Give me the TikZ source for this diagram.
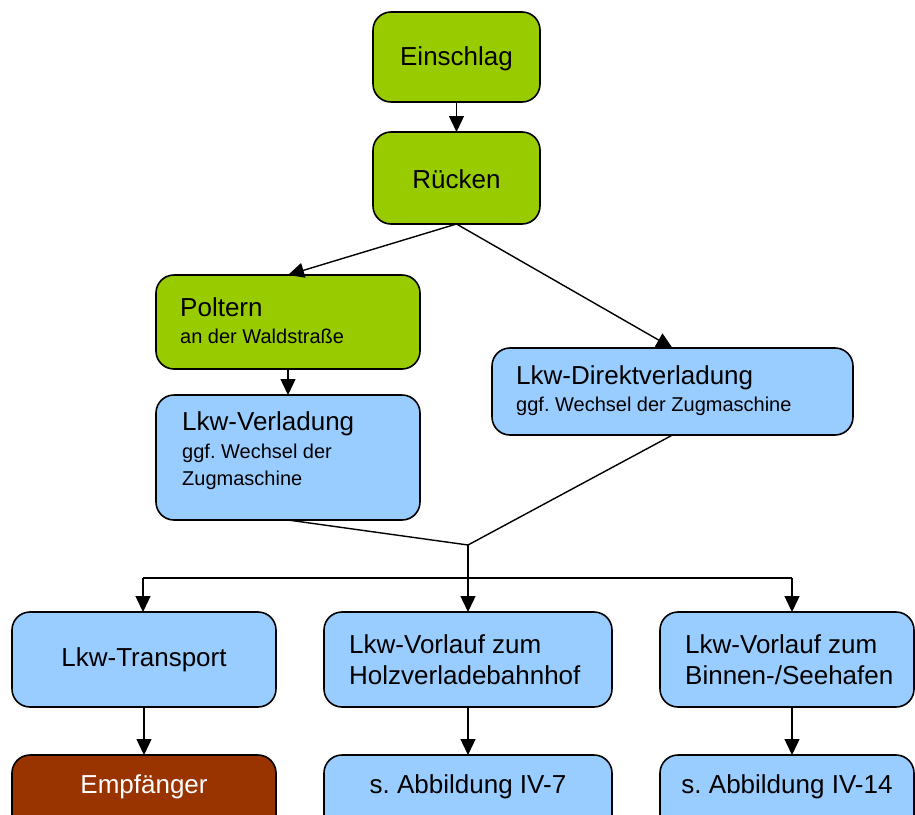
\documentclass[tikz,border=0pt]{standalone}
\usepackage{fontspec}
\setmainfont{Liberation Sans}
\usetikzlibrary{arrows.meta,calc}
\definecolor{grn}{HTML}{99CC00}
\definecolor{blu}{HTML}{99CCFF}
\definecolor{brn}{HTML}{993300}
\frenchspacing
\tikzset{
  box/.style={draw=black,line width=1.6pt,rounded corners=18pt,anchor=north west,inner sep=0pt,outer sep=0pt},
  gbox/.style={box,fill=grn},
  bbox/.style={box,fill=blu},
  lbl/.style={inner sep=0pt,font=\fontsize{26}{31}\selectfont,text=black},
  lft/.style={lbl,anchor=west,align=left},
  conn/.style={line width=1.4pt},
  arr/.style={conn,-{Triangle[length=16pt,width=15pt]}}
}
\begin{document}
\begin{tikzpicture}[x=1pt,y=-1pt]
\useasboundingbox (0,0) rectangle (915,814);
\clip (0,0) rectangle (915,814);
% boxes
\node[gbox,minimum width=167pt,minimum height=90pt] (ein) at (373,12) {};
\node[lbl] at ($(ein.center)+(0,2)$) {Einschlag};
\node[gbox,minimum width=167pt,minimum height=92pt] (rue) at (373,132) {};
\node[lbl] at ($(rue.center)+(0,1)$) {Rücken};
\node[gbox,minimum width=264pt,minimum height=94pt] (pol) at (156,275) {};
\node[lft] (polt) at (180,321) {Poltern\\[-4pt]{\fontsize{20}{24}\selectfont an der Waldstraße}};
\node[bbox,minimum width=264pt,minimum height=125pt] (ver) at (156,395) {};
\node[lft] (vert) at (182,451) {Lkw-Verladung\\[-3pt]{\fontsize{20}{24}\selectfont ggf. Wechsel der}\\[-4pt]{\fontsize{20}{24}\selectfont Zugmaschine}};
\node[bbox,minimum width=361pt,minimum height=87pt] (dir) at (492,348) {};
\node[lft] (dirt) at (516,391) {Lkw-Direktverladung\\[-4pt]{\fontsize{20}{24}\selectfont ggf. Wechsel der Zugmaschine}};
\node[bbox,minimum width=264pt,minimum height=95pt] (tra) at (12,612) {};
\node[lbl] at (tra.center) {Lkw-Transport};
\node[bbox,minimum width=288pt,minimum height=95pt] (hol) at (324,612) {};
\node[lft] (holt) at (349,660) {Lkw-Vorlauf zum\\Holzverladebahnhof};
\node[bbox,minimum width=254pt,minimum height=95pt] (bin) at (660,612) {};
\node[lft] (bint) at (685,660) {Lkw-Vorlauf zum\\Binnen-/Seehafen};
\node[box,fill=brn,minimum width=264pt,minimum height=90pt] (emp) at (12,755) {};
\node[lbl,text=white] at ($(emp.north)+(0,32)$) {Empfänger};
\node[bbox,minimum width=288pt,minimum height=90pt] (ab7) at (324,755) {};
\node[lbl] at ($(ab7.north)+(0,32)$) {s. Abbildung IV-7};
\node[bbox,minimum width=254pt,minimum height=90pt] (ab14) at (660,755) {};
\node[lbl] at ($(ab14.north)+(0,32)$) {s. Abbildung IV-14};
% connectors
\coordinate (m) at (468,545);
\coordinate (hl) at (143,578);
\coordinate (hm) at (468,578);
\coordinate (hr) at (792,578);
\draw[arr] (ein.south) -- (rue.north);
\draw[arr] (rue.south) -- (pol.north);
\draw[arr] (rue.south) -- (dir.north);
\draw[arr] (pol.south) -- (ver.north);
\draw[conn] (ver.south) -- (m) -- (dir.south);
\draw[conn] (m) -- (hm);
\draw[conn] (hl) -- (hr);
\draw[arr] (hl) -- (hl |- tra.north);
\draw[arr] (hm) -- (hm |- hol.north);
\draw[arr] (hr) -- (hr |- bin.north);
\draw[arr] (tra.south) -- (emp.north);
\draw[arr] (hol.south) -- (ab7.north);
\draw[arr] (hr |- bin.south) -- (hr |- ab14.north);
\end{tikzpicture}
\end{document}
